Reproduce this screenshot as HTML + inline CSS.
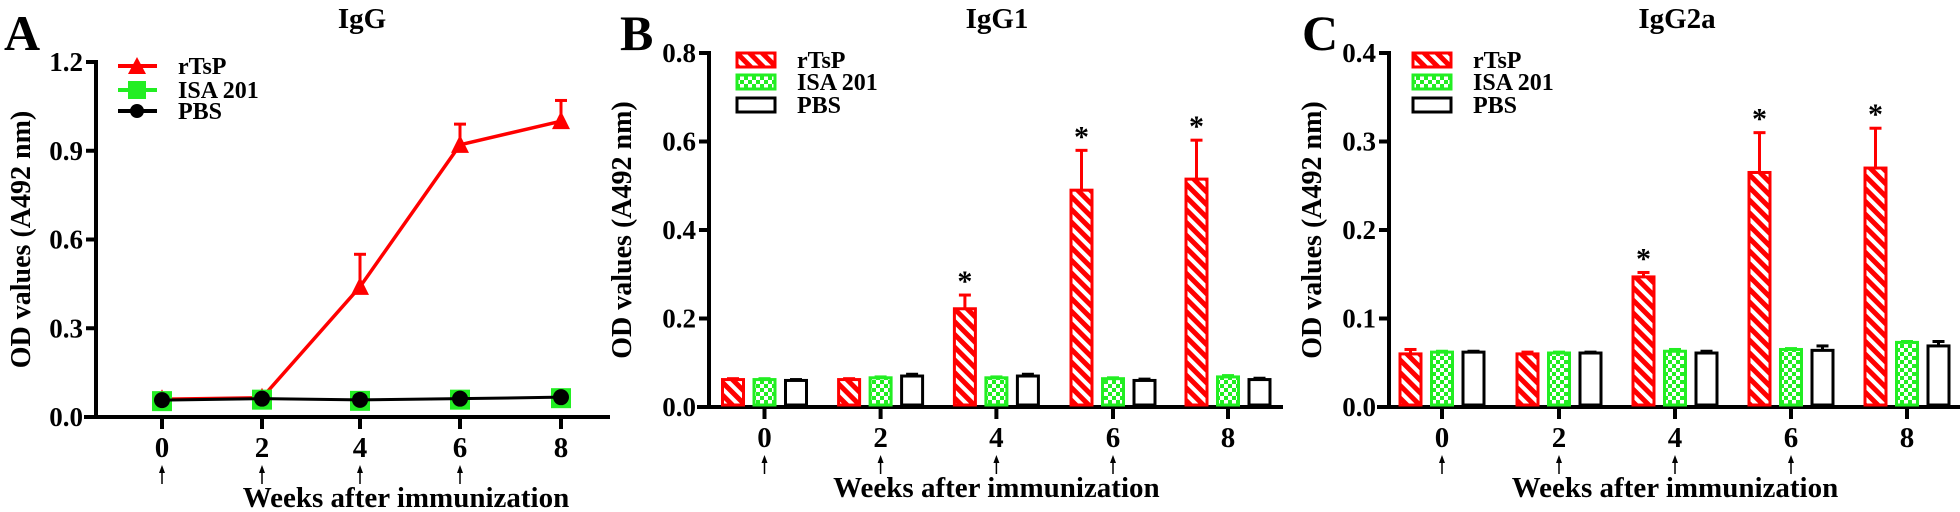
<!DOCTYPE html>
<html><head><meta charset="utf-8"><style>
html,body{margin:0;padding:0;background:#fff;}
svg{display:block;}
text{font-family:"Liberation Serif","Times New Roman",Times,"DejaVu Serif","Noto Serif CJK SC",serif;font-weight:bold;}
</style></head><body>
<svg id="s" width="1960" height="512" viewBox="0 0 1960 512" xmlns="http://www.w3.org/2000/svg">
<defs>
<pattern id="hatch" patternUnits="userSpaceOnUse" width="9" height="9" patternTransform="rotate(45)">
<rect width="9" height="9" fill="#fff"/><rect width="9" height="5" fill="#ff0000"/>
</pattern>
<pattern id="check" patternUnits="userSpaceOnUse" width="8" height="8">
<rect width="8" height="8" fill="#22ee22"/><rect x="0" y="0" width="4" height="4" fill="#fff"/><rect x="4" y="4" width="4" height="4" fill="#fff"/>
</pattern>
</defs>
<g id="g"></g>
</svg>
<script>
var g=document.getElementById('g'),NS='http://www.w3.org/2000/svg';
var FF='"Liberation Serif","Times New Roman",Times,"DejaVu Serif","Noto Serif CJK SC",serif';
function el(t,a,txt){var e=document.createElementNS(NS,t);for(var k in a)e.setAttribute(k,a[k]);if(txt!=null)e.textContent=txt;g.appendChild(e);return e;}
function line(x1,y1,x2,y2,c,w){el('line',{x1:x1,y1:y1,x2:x2,y2:y2,stroke:c||'#000','stroke-width':w||4});}
function txt(x,y,s,sz,anchor,extra){var a={x:x,y:y,'font-size':sz,'text-anchor':anchor||'middle',fill:'#000','font-weight':'bold'};for(var k in extra)a[k]=extra[k];var e=el('text',a,s);e.style.fontFamily=FF;return e;}
function axes(ax,y0,ytop,xend,tickLabels,xt,letter,lx,title,tx,ylx,wx){
 line(ax,ytop-2,ax,y0+2,'#000',4);
 line(ax-12,y0,xend,y0,'#000',4);
 for(var i=0;i<tickLabels.length;i++){var y=y0-(y0-ytop)*i/(tickLabels.length-1);line(ax-10,y,ax,y,'#000',4);txt(ax-13,y+9,tickLabels[i],27,'end');}
 for(var j=0;j<xt.length;j++){line(xt[j],y0,xt[j],y0+12,'#000',4);txt(xt[j],y0+40,String(j*2),29,'middle');
   if(j<4){line(xt[j],y0+54,xt[j],y0+67,'#000',1.5);el('path',{d:'M'+(xt[j]-3)+' '+(y0+56)+' L'+xt[j]+' '+(y0+48)+' L'+(xt[j]+3)+' '+(y0+56)+'Z',fill:'#000'});}}
 txt(wx,y0+90,'Weeks after immunization',29,'middle');
 txt(lx,50,letter,50,'start');
 txt(tx,28,title,29,'middle');
 txt(0,0,'OD values (A492 nm)',28,'middle',{transform:'translate('+ylx+','+((y0+ytop)/2)+') rotate(-90)'});
}
(function(){
 var ax=96,y0=417,yt=62,xt=[162,262,360,460,561];
 axes(ax,y0,yt,610,['0.0','0.3','0.6','0.9','1.2'],xt,'A',4,'IgG',362,30,406);
 var sc=(y0-yt)/1.2; function Y(v){return y0-v*sc;}
 var r=[0.06,0.065,0.44,0.92,1.0],re=[0,0,0.55,0.99,1.07];
 for(var i=2;i<5;i++){line(xt[i],Y(r[i]),xt[i],Y(re[i]),'#f00',3);line(xt[i]-6,Y(re[i]),xt[i]+6,Y(re[i]),'#f00',3);}
 var p='';for(i=0;i<5;i++)p+=(i?'L':'M')+xt[i]+' '+Y(r[i]);
 el('path',{d:p,stroke:'#f00','stroke-width':3.5,fill:'none'});
 for(i=0;i<5;i++){var x=xt[i],y=Y(r[i]);el('path',{d:'M'+(x-9)+' '+(y+8)+'L'+x+' '+(y-10)+'L'+(x+9)+' '+(y+8)+'Z',fill:'#f00'});}
 var gv=[0.057,0.062,0.058,0.062,0.067];
 p='';for(i=0;i<5;i++)p+=(i?'L':'M')+xt[i]+' '+Y(gv[i]);
 for(i=0;i<5;i++)el('rect',{x:xt[i]-10,y:Y(gv[i])-9,width:20,height:20,fill:'#22ee22'});
 el('path',{d:p,stroke:'#000','stroke-width':3,fill:'none'});
 for(i=0;i<5;i++)el('circle',{cx:xt[i],cy:Y(gv[i]),r:8,fill:'#000'});
 line(118,66,157,66,'#f00',4);el('path',{d:'M128 74L137 57L146 74Z',fill:'#f00'});txt(178,74,'rTsP',24,'start');
 line(118,90,157,90,'#22ee22',4);el('rect',{x:128,y:81,width:18,height:18,fill:'#22ee22'});txt(178,98,'ISA 201',24,'start');
 line(118,111,157,111,'#000',4);el('circle',{cx:137,cy:111,r:7,fill:'#000'});txt(178,119,'PBS',24,'start');
})();
function barPanel(ax,y0,yt,xend,ymax,labels,xt,letter,lx,title,tx,ylx,legx,data){
 axes(ax,y0,yt,xend,labels,xt,letter,lx,title,tx,ylx,xt[2]);
 var sc=(y0-yt)/ymax;function Y(v){return y0-v*sc;}
 var fills=['url(#hatch)','url(#check)','#fff'],strokes=['#f00','#22ee22','#000'];
 for(var i=0;i<5;i++)for(var k=0;k<3;k++){
  var v=data[k][0][i],e=data[k][1][i],cx=xt[i]+(k-1)*31.5,w=21;
  if(e>v){line(cx,Y(v),cx,Y(e),strokes[k],3);line(cx-6,Y(e),cx+6,Y(e),strokes[k],3);}
  el('rect',{x:cx-w/2,y:Y(v),width:w,height:y0-Y(v)-2,fill:fills[k],stroke:strokes[k],'stroke-width':3});
  if(k==0&&i>=2)txt(cx,Y(e)-4,'*',30,'middle');
 }
 var ly=[60,82,105],nm=['rTsP','ISA 201','PBS'];
 for(k=0;k<3;k++){el('rect',{x:legx,y:ly[k]-7,width:38,height:14,fill:fills[k],stroke:strokes[k],'stroke-width':3});txt(legx+60,ly[k]+8,nm[k],24,'start');}
}
barPanel(709,407,53,1283,0.8,['0.0','0.2','0.4','0.6','0.8'],[764.5,880.6,996.4,1113,1228],'B',620,'IgG1',997,631,737,
 [[[0.062,0.062,0.222,0.49,0.515],[0.064,0.064,0.253,0.58,0.603]],
  [[0.062,0.066,0.066,0.064,0.068],[0.064,0.068,0.068,0.066,0.071]],
  [[0.06,0.07,0.07,0.06,0.062],[0.062,0.074,0.074,0.063,0.065]]]);
barPanel(1389,407,53,1960,0.4,['0.0','0.1','0.2','0.3','0.4'],[1442,1559,1675,1791,1907],'C',1302,'IgG2a',1677,1321,1413,
 [[[0.06,0.06,0.147,0.265,0.27],[0.065,0.062,0.152,0.31,0.315]],
  [[0.062,0.061,0.063,0.065,0.073],[0.063,0.062,0.065,0.066,0.074]],
  [[0.062,0.061,0.061,0.064,0.069],[0.063,0.062,0.063,0.069,0.074]]]);
</script>
</body></html>
